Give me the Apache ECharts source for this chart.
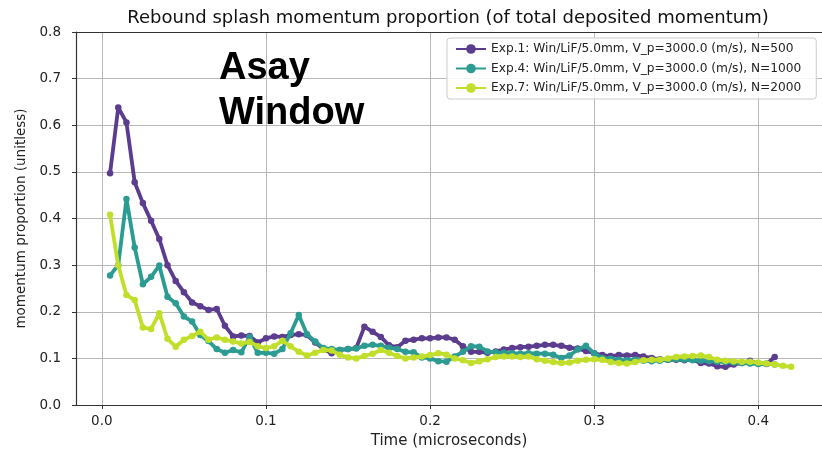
<!DOCTYPE html>
<html>
<head>
<meta charset="utf-8">
<script src="https://cdn.jsdelivr.net/npm/echarts@6/dist/echarts.min.js"></script>
<style>html,body{margin:0;padding:0;background:#fff;}#c{width:822px;height:451px;}</style>
</head>
<body>
<div id="c"></div>
<script>
const times = [0.005,0.010,0.015,0.020,0.025,0.030,0.035,0.040,0.045,0.050,0.055,0.060,0.065,0.070,0.075,0.080,0.085,0.090,0.095,0.100,
0.105,0.110,0.115,0.120,0.125,0.130,0.135,0.140,0.145,0.150,0.155,0.160,0.165,0.170,0.175,0.180,0.185,0.190,0.195,0.200,
0.205,0.210,0.215,0.220,0.225,0.230,0.235,0.240,0.245,0.250,0.255,0.260,0.265,0.270,0.275,0.280,0.285,0.290,0.295,0.300,
0.305,0.310,0.315,0.320,0.325,0.330,0.335,0.340,0.345,0.350,0.355,0.360,0.365,0.370,0.375,0.380,0.385,0.390,0.395,0.400,
0.405,0.410,0.415,0.420];

const exp1 = [0.497,0.638,0.606,0.478,0.433,0.395,0.356,0.300,0.266,0.242,0.220,0.212,0.204,0.206,0.170,0.147,0.149,0.148,0.134,0.143,
0.147,0.146,0.150,0.152,0.150,0.134,0.120,0.111,0.118,0.120,0.122,0.168,0.157,0.146,0.128,0.124,0.138,0.140,0.143,0.143,
0.145,0.145,0.140,0.126,0.114,0.114,0.112,0.115,0.119,0.122,0.124,0.125,0.127,0.129,0.129,0.127,0.123,0.121,0.116,0.111,
0.107,0.105,0.107,0.106,0.107,0.104,0.101,0.098,0.097,0.097,0.096,0.097,0.090,0.089,0.083,0.082,0.087,0.090,0.095,0.089,
0.088,0.103];

const exp4 = [0.278,0.300,0.442,0.338,0.259,0.275,0.299,0.232,0.218,0.190,0.179,0.150,0.137,0.120,0.112,0.118,0.113,0.146,0.112,0.112,
0.110,0.120,0.154,0.193,0.152,0.136,0.122,0.120,0.118,0.120,0.121,0.127,0.129,0.127,0.123,0.120,0.114,0.113,0.102,0.100,
0.094,0.093,0.104,0.114,0.126,0.125,0.115,0.113,0.112,0.111,0.110,0.111,0.110,0.110,0.108,0.101,0.106,0.119,0.127,0.111,
0.101,0.099,0.097,0.096,0.097,0.095,0.094,0.095,0.097,0.098,0.097,0.096,0.095,0.094,0.093,0.092,0.091,0.090,0.089,0.088,
0.089,0.087];

const exp7 = [0.408,0.299,0.236,0.225,0.166,0.163,0.197,0.142,0.125,0.140,0.148,0.157,0.140,0.145,0.140,0.136,0.132,0.135,0.126,0.122,
0.126,0.138,0.126,0.114,0.106,0.112,0.118,0.117,0.108,0.102,0.100,0.105,0.110,0.118,0.112,0.105,0.100,0.102,0.104,0.107,
0.111,0.108,0.100,0.096,0.090,0.094,0.098,0.103,0.104,0.104,0.103,0.104,0.098,0.095,0.092,0.090,0.091,0.095,0.097,0.098,
0.097,0.092,0.090,0.089,0.092,0.096,0.097,0.097,0.100,0.103,0.104,0.105,0.106,0.103,0.097,0.095,0.094,0.093,0.093,0.091,
0.089,0.087,0.084,0.082];

const seriesNames = [
  'Exp.1: Win/LiF/5.0mm, V_p=3000.0 (m/s), N=500',
  'Exp.4: Win/LiF/5.0mm, V_p=3000.0 (m/s), N=1000',
  'Exp.7: Win/LiF/5.0mm, V_p=3000.0 (m/s), N=2000'
];
const seriesValues = [exp1, exp4, exp7];
const colors = ['#5b3c8e', '#2c9c92', '#c1df2a'];
const xTicks = [0.0, 0.1, 0.2, 0.3, 0.4];
const titleText = 'Rebound splash momentum proportion (of total deposited momentum)';
const xName = 'Time (microseconds)';
const yName = 'momentum proportion (unitless)';
const noteLines = ['Asay', 'Window'];

const font = 'DejaVu Sans';
const xMin = -0.01575, xMax = 0.43883;
const chart = echarts.init(document.getElementById('c'), null, {renderer: 'canvas'});

const series = seriesValues.map((vals, i) => ({
  name: seriesNames[i],
  type: 'line',
  data: vals.map((v, j) => [times[j], v]),
  symbol: 'circle',
  symbolSize: 6.5,
  showSymbol: true,
  lineStyle: {width: 3.8, color: colors[i]},
  itemStyle: {color: colors[i]},
  emphasis: {disabled: true},
  animation: false,
  z: 2 + i
}));

chart.setOption({
  animation: false,
  backgroundColor: '#fff',
  title: {
    text: titleText,
    left: 443, top: 4,
    textAlign: 'center',
    textStyle: {fontFamily: font, fontSize: 18, fontWeight: 'normal', color: '#111'}
  },
  grid: {
    left: 76, top: 32, right: 0, bottom: 46,
    outerBoundsMode: 'none',
    containLabel: false,
    show: false
  },
  legend: {
    orient: 'vertical',
    left: 447, top: 38,
    itemWidth: 30, itemHeight: 12,
    itemGap: 7.5,
    padding: [5, 15, 5, 8],
    backgroundColor: 'rgba(255,255,255,0.85)',
    borderColor: '#cccccc', borderWidth: 1, borderRadius: 3,
    textStyle: {fontFamily: font, fontSize: 12.2, color: '#222'},
    data: seriesNames
  },
  xAxis: [{
    type: 'value', position: 'bottom',
    min: xMin, max: xMax,
    name: xName, nameLocation: 'middle', nameGap: 29,
    nameTextStyle: {fontFamily: font, fontSize: 15, color: '#222'},
    axisLine: {show: true, onZero: false, lineStyle: {color: '#333', width: 1.2}},
    axisTick: {show: true, length: 4, customValues: xTicks, lineStyle: {color: '#333'}},
    axisLabel: {customValues: xTicks, formatter: v => v.toFixed(1), fontFamily: font, fontSize: 13.5, color: '#222', margin: 9},
    splitLine: {show: true, lineStyle: {color: '#b8b8b8', width: 1}}
  }, {
    type: 'value', position: 'top',
    min: xMin, max: xMax,
    axisLine: {show: true, onZero: false, lineStyle: {color: '#333', width: 1.2}},
    axisTick: {show: false}, axisLabel: {show: false}, splitLine: {show: false}
  }],
  yAxis: {
    type: 'value',
    min: 0, max: 0.8, interval: 0.1,
    name: yName, nameLocation: 'middle', nameGap: 41, nameRotate: 90,
    nameTextStyle: {fontFamily: font, fontSize: 13.5, color: '#222'},
    axisLine: {show: true, onZero: false, lineStyle: {color: '#333', width: 1.2}},
    axisTick: {show: true, length: 4, lineStyle: {color: '#333'}},
    axisLabel: {formatter: v => v.toFixed(1), fontFamily: font, fontSize: 13.5, color: '#222', margin: 15},
    splitLine: {show: true, lineStyle: {color: '#b8b8b8', width: 1}}
  },
  graphic: [
    {type: 'text', left: 219, top: 50, z: 100,
     style: {text: noteLines[0], fontFamily: 'Liberation Sans', fontWeight: 'bold', fontSize: 38, fill: '#000'}},
    {type: 'text', left: 219, top: 95, z: 100,
     style: {text: noteLines[1], fontFamily: 'Liberation Sans', fontWeight: 'bold', fontSize: 38, fill: '#000'}}
  ],
  series: series
});
</script>
</body>
</html>
